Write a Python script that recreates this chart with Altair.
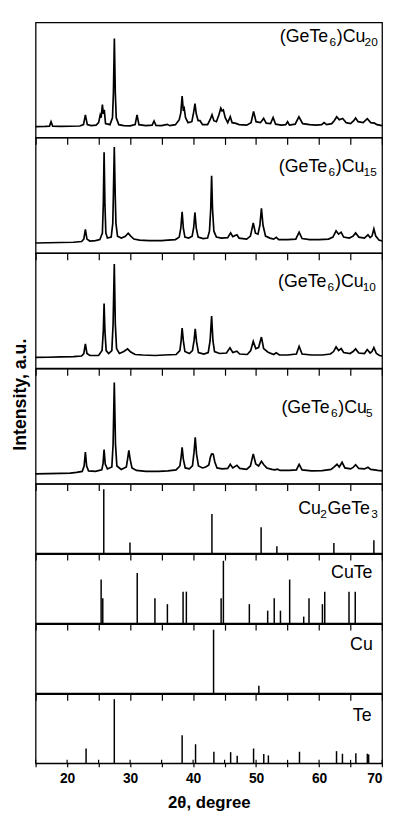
import altair as alt
import pandas as pd

# ---------------- data ----------------
# XRD patterns: 2-theta (degree) and intensity (a.u.)
cu20_2t = [15.0, 16.5, 17.2, 17.45, 17.7, 19.0, 20.5, 22.0, 22.6, 22.9, 23.2, 23.8, 24.6, 25.0, 25.25, 25.4,
           25.6, 25.75, 25.9, 26.1, 26.8, 27.2, 27.35, 27.5, 27.65, 27.8, 28.2, 29.0, 30.0, 30.8, 31.1, 31.4,
           32.5, 33.5, 33.8, 34.1, 35.0, 35.9, 36.3, 37.2, 37.8, 38.05, 38.26, 38.45, 38.6, 38.8, 39.2, 39.8,
           40.1, 40.3, 40.5, 40.8, 41.1, 41.5, 42.3, 42.7, 43.0, 43.3, 43.7, 44.1, 44.4, 44.6, 44.8, 45.1,
           45.5, 45.9, 46.2, 46.8, 47.3, 48.5, 49.2, 49.6, 50.0, 50.7, 51.2, 51.6, 52.3, 52.7, 53.1, 54.0,
           54.7, 55.0, 55.3, 56.2, 56.8, 57.4, 58.5, 59.5, 60.4, 60.8, 61.2, 62.0, 62.4, 62.8, 63.2, 63.75,
           64.3, 65.0, 65.5, 65.8, 66.2, 67.0, 67.65, 68.2, 68.8, 69.2, 70.0]
cu20_int = [11.0, 11.2, 11.5, 16.0, 11.5, 11.3, 11.4, 11.6, 13.0, 23.0, 13.0, 12.0, 12.5, 15.0, 22.7, 20.0,
            33.3, 24.0, 28.0, 14.0, 13.0, 20.0, 45.0, 100.3, 45.0, 20.0, 13.0, 12.0, 11.8, 13.0, 23.0, 13.0,
            12.0, 12.5, 16.7, 12.3, 12.0, 13.3, 12.0, 13.0, 18.0, 25.0, 42.0, 27.0, 29.3, 20.0, 15.0, 16.0,
            26.0, 34.3, 24.0, 17.0, 17.0, 13.0, 13.0, 18.0, 23.0, 17.0, 16.0, 23.0, 29.7, 27.0, 28.0, 20.0,
            15.0, 21.0, 15.0, 14.3, 13.0, 12.5, 15.0, 26.3, 16.0, 15.0, 19.3, 14.5, 14.0, 20.3, 13.5, 12.5,
            13.0, 16.0, 12.5, 13.5, 21.0, 14.0, 13.0, 12.5, 13.0, 15.0, 13.0, 14.0, 17.0, 21.0, 18.0, 19.3,
            15.0, 14.0, 17.0, 19.7, 16.0, 15.0, 19.0, 15.0, 14.5, 13.0, 12.0]

cu15_2t = [15.0, 17.0, 19.0, 21.0, 22.3, 22.65, 22.9, 23.15, 23.6, 24.5, 25.2, 25.6, 25.75, 25.87, 26.0, 26.15,
           26.4, 27.0, 27.25, 27.35, 27.49, 27.63, 27.75, 28.0, 28.6, 29.2, 29.7, 30.1, 30.6, 31.5, 33.0, 35.0,
           36.0, 37.2, 37.8, 38.05, 38.26, 38.45, 38.7, 39.3, 39.85, 40.1, 40.29, 40.5, 40.8, 41.6, 42.3, 42.6,
           42.8, 42.94, 43.08, 43.3, 43.7, 44.5, 45.5, 45.96, 46.3, 46.95, 47.3, 48.5, 49.1, 49.55, 49.9, 50.3,
           50.6, 50.85, 51.1, 51.5, 52.2, 52.8, 53.2, 53.6, 55.0, 56.3, 56.83, 57.3, 58.5, 60.0, 61.5, 62.2,
           62.7, 63.1, 63.5, 63.9, 64.8, 65.4, 65.8, 66.3, 67.2, 67.76, 68.1, 68.4, 68.7, 69.0, 69.5, 70.0]
cu15_int = [10.0, 10.3, 10.5, 10.8, 11.5, 14.0, 23.7, 14.0, 12.0, 12.5, 13.5, 20.0, 50.0, 102.0, 50.0, 20.0,
            15.0, 16.0, 30.0, 60.0, 107.3, 60.0, 30.0, 17.0, 15.0, 16.5, 20.0, 17.0, 14.0, 13.0, 12.5, 12.5,
            13.0, 13.5, 16.0, 25.0, 41.7, 25.0, 16.0, 15.0, 17.0, 26.0, 41.0, 25.0, 16.0, 14.5, 15.0, 22.0,
            45.0, 78.3, 45.0, 22.0, 16.0, 15.0, 15.5, 20.3, 16.5, 18.3, 15.0, 14.0, 17.0, 30.3, 20.0, 19.0,
            28.0, 45.3, 28.0, 17.0, 15.0, 14.0, 15.7, 13.5, 13.5, 14.0, 21.0, 14.5, 13.5, 13.5, 14.0, 16.0,
            22.3, 19.0, 21.0, 16.0, 15.0, 17.0, 20.3, 16.0, 15.0, 18.3, 15.5, 17.0, 24.3, 17.0, 13.0, 12.0]

cu10_2t = [15.0, 17.0, 19.0, 21.0, 22.3, 22.65, 22.9, 23.15, 23.6, 25.0, 25.55, 25.75, 25.87, 26.0, 26.2, 26.6,
           27.1, 27.3, 27.49, 27.65, 27.85, 28.3, 29.0, 29.6, 30.1, 30.8, 32.0, 34.0, 35.4, 37.3, 37.9, 38.1,
           38.26, 38.45, 38.7, 39.4, 39.9, 40.15, 40.34, 40.55, 40.85, 41.7, 42.4, 42.7, 42.94, 43.15, 43.4, 44.2,
           45.3, 45.85, 46.3, 46.95, 47.4, 48.6, 49.15, 49.55, 49.95, 50.4, 50.85, 51.2, 51.9, 52.8, 53.2, 53.7,
           55.0, 56.4, 56.83, 57.3, 58.8, 60.5, 61.8, 62.3, 62.7, 63.1, 63.5, 63.9, 64.9, 65.4, 65.8, 66.3,
           67.2, 67.65, 68.1, 68.4, 68.7, 69.1, 69.6, 70.0]
cu10_int = [11.0, 11.2, 11.5, 11.8, 12.5, 15.0, 24.7, 15.0, 13.0, 13.0, 18.0, 38.0, 65.7, 38.0, 18.0, 15.0,
            18.0, 45.0, 105.7, 45.0, 20.0, 15.0, 17.0, 19.7, 16.5, 14.0, 13.5, 13.0, 13.5, 14.0, 18.0, 28.0,
            40.7, 28.0, 17.0, 15.0, 18.0, 28.0, 40.0, 27.0, 16.0, 14.5, 16.0, 28.0, 53.0, 28.0, 17.0, 15.0,
            15.5, 20.7, 16.0, 17.3, 14.5, 14.0, 18.0, 27.3, 20.0, 21.0, 31.7, 20.0, 16.3, 14.0, 15.7, 13.5,
            13.5, 14.5, 22.3, 14.5, 13.5, 13.5, 14.5, 17.0, 21.7, 18.0, 20.0, 16.0, 15.0, 17.0, 19.7, 15.5,
            15.0, 19.0, 15.5, 17.0, 21.0, 15.0, 13.0, 12.5]

cu5_2t = [15.0, 17.0, 19.0, 20.5, 21.5, 22.4, 22.7, 22.9, 23.1, 23.4, 24.5, 25.5, 25.7, 25.87, 26.05, 26.4,
          27.1, 27.3, 27.49, 27.68, 27.9, 28.6, 29.4, 29.6, 29.8, 30.0, 30.3, 31.0, 32.5, 34.5, 36.0, 37.3,
          37.9, 38.1, 38.26, 38.45, 38.75, 39.4, 39.9, 40.15, 40.34, 40.55, 40.85, 41.5, 42.0, 42.5, 42.75, 42.94,
          43.2, 43.45, 43.8, 44.6, 45.5, 45.9, 46.3, 46.95, 47.4, 48.5, 49.1, 49.55, 49.95, 50.4, 50.85, 51.2,
          51.7, 52.5, 53.0, 53.4, 53.8, 55.3, 56.4, 56.83, 57.3, 58.8, 60.5, 61.9, 62.4, 62.85, 63.2, 63.65,
          64.1, 65.0, 65.4, 65.8, 66.3, 67.2, 67.76, 68.2, 68.8, 69.3, 70.0]
cu5_int = [10.0, 10.2, 10.5, 10.8, 11.5, 12.5, 18.0, 32.0, 18.0, 13.0, 12.5, 14.0, 20.0, 34.7, 20.0, 15.0,
           17.0, 40.0, 102.7, 40.0, 18.0, 14.5, 17.0, 25.0, 33.7, 25.0, 16.0, 13.5, 12.5, 12.5, 13.0, 14.0,
           18.0, 27.0, 37.0, 25.0, 16.0, 15.0, 18.0, 32.0, 47.0, 30.0, 18.0, 16.0, 17.0, 19.0, 27.0, 30.3,
           30.0, 22.0, 16.0, 15.0, 15.5, 19.7, 16.0, 18.7, 15.5, 14.5, 18.0, 30.3, 20.0, 18.0, 22.7, 19.5,
           16.0, 14.5, 14.0, 14.7, 13.5, 13.5, 14.0, 19.7, 14.0, 13.0, 13.3, 14.5, 17.0, 19.7, 17.0, 21.7,
           16.0, 15.0, 16.5, 19.3, 15.5, 15.0, 16.7, 14.5, 14.0, 13.5, 13.0]

# Reference patterns: line positions (2-theta) and relative intensities (a.u.)
cu2gete3_2t = [25.82, 29.98, 42.99, 50.80, 53.30, 62.35, 68.70]
cu2gete3_int = [64.7, 10.7, 39.7, 26.3, 7.0, 10.3, 13.0]
cute_2t = [25.40, 25.66, 31.13, 33.94, 35.92, 38.41, 38.93, 44.45, 44.81, 48.93,
           51.84, 52.88, 53.87, 55.33, 57.56, 58.40, 60.53, 60.90, 64.75, 65.74]
cute_int = [44.3, 25.3, 51.0, 25.3, 19.3, 32.0, 32.0, 25.3, 63.3, 19.3,
            12.7, 25.3, 12.7, 44.3, 6.7, 25.3, 19.3, 32.0, 32.0, 32.0]
cu_2t = [43.25, 50.44]
cu_int = [64.4, 7.7]
te_2t = [23.01, 27.49, 38.26, 40.39, 43.30, 45.96, 47.00, 49.60, 51.22, 51.95,
         56.89, 62.77, 63.71, 65.84, 67.66, 67.87]
te_int = [15.0, 65.0, 28.3, 19.3, 11.7, 11.3, 7.7, 15.0, 9.3, 8.0,
          11.7, 12.3, 9.7, 10.3, 9.7, 9.0]

# labels: (text, is_subscript) pieces
lab_cu20 = [("(GeTe", False), ("6", True), (")Cu", False), ("20", True)]
lab_cu15 = [("(GeTe", False), ("6", True), (")Cu", False), ("15", True)]
lab_cu10 = [("(GeTe", False), ("6", True), (")Cu", False), ("10", True)]
lab_cu5 = [("(GeTe", False), ("6", True), (")Cu", False), ("5", True)]
lab_cu2gete3 = [("Cu", False), ("2", True), ("GeTe", False), ("3", True)]
lab_cute = [("CuTe", False)]
lab_cu = [("Cu", False)]
lab_te = [("Te", False)]

tick_values = [15, 20, 25, 30, 35, 40, 45, 50, 55, 60, 65, 70]
x_title = "2θ, degree"
y_title = "Intensity, a.u."

# ---------------- layout / style ----------------
FONT = "Liberation Sans"
W = 351.2
H_XRD = 116.7
H_REF = 70.1
XDOM = [15, 70]
AW = {"(": .333, ")": .333, "G": .778, "e": .556, "T": .611, "C": .722, "u": .556}
for d in "0123456789":
    AW[d] = .556

one = pd.DataFrame({"a": [0]})


def label_layers(parts, right, base, size=18, sub=12):
    widths = [sum(AW[c] for c in t) * (sub if s else size) for t, s in parts]
    x = right - sum(widths)
    out = []
    for (t, s), w in zip(parts, widths):
        out.append(
            alt.Chart(one).mark_text(text=t, align="left", baseline="alphabetic", font=FONT,
                                     fontSize=sub if s else size, color="black")
            .encode(x=alt.value(x - (0.8 if s else 0)), y=alt.value(base + (4 if s else 0)))
        )
        x += w
    return out


def x_axis(bottom=False):
    if bottom:
        return alt.Axis(values=tick_values, labelExpr="datum.value % 10 == 0 ? datum.label : ''",
                        labelOverlap=False, labelFlush=True, labelFont=FONT, labelFontWeight="bold",
                        labelFontSize=14, labelColor="black", labelPadding=5, tickSize=3.5,
                        tickColor="black", tickWidth=1.2, domain=False, grid=False, title=x_title,
                        titleFont=FONT, titleFontWeight="bold", titleFontSize=17, titleColor="black",
                        titlePadding=9)
    return alt.Axis(values=tick_values, labels=False, title=None, tickSize=7, tickColor="black",
                    tickWidth=1.2, domain=False, grid=False)


def xrd_panel(tt, inten, parts, right, base, extra=None):
    df = pd.DataFrame({"t": tt, "i": inten})
    line = alt.Chart(df).mark_line(color="black", strokeWidth=1.7).encode(
        x=alt.X("t:Q", scale=alt.Scale(domain=XDOM, nice=False, zero=False), axis=x_axis()),
        y=alt.Y("i:Q", scale=alt.Scale(domain=[0, H_XRD]), axis=None),
        order="t:Q",
    )
    layers = [line] + label_layers(parts, right, base)
    if extra is not None:
        layers.append(extra)
    return alt.layer(*layers).properties(width=W, height=H_XRD)


def ref_panel(tt, inten, parts, right, base, bottom=False):
    df = pd.DataFrame({"t": tt, "i": inten})
    rules = alt.Chart(df).mark_rule(color="black", strokeWidth=1.5).encode(
        x=alt.X("t:Q", scale=alt.Scale(domain=XDOM, nice=False, zero=False), axis=x_axis(bottom)),
        y=alt.Y("i:Q", scale=alt.Scale(domain=[0, H_REF]), axis=None),
        y2=alt.datum(0),
    )
    layers = [rules] + label_layers(parts, right, base)
    if bottom:
        tk = alt.Chart(pd.DataFrame({"t": tick_values})).mark_rule(color="black", strokeWidth=1.2).encode(
            x=alt.X("t:Q", axis=x_axis(True)), y=alt.value(H_REF - 3.5), y2=alt.value(H_REF))
        layers.append(tk)
    return alt.layer(*layers).properties(width=W, height=H_REF)


ytitle = alt.Chart(one).mark_text(text=y_title, angle=270, align="center", baseline="middle", font=FONT,
                                  fontSize=18, fontWeight="bold", color="black").encode(
    x=alt.value(-15), y=alt.value(26.5))

panels = [
    xrd_panel(cu20_2t, cu20_int, lab_cu20, W - 3.6, 20),
    xrd_panel(cu15_2t, cu15_int, lab_cu15, W - 4.6, 34.3),
    xrd_panel(cu10_2t, cu10_int, lab_cu10, W - 5.4, 34.7),
    xrd_panel(cu5_2t, cu5_int, lab_cu5, W - 8.7, 45, extra=ytitle),
    ref_panel(cu2gete3_2t, cu2gete3_int, lab_cu2gete3, W - 3.6, 30),
    ref_panel(cute_2t, cute_int, lab_cute, W - 7.7, 24),
    ref_panel(cu_2t, cu_int, lab_cu, W - 9.4, 26.6),
    ref_panel(te_2t, te_int, lab_te, W - 8.7, 27.3, bottom=True),
]

chart = (
    alt.vconcat(*panels, spacing=0, bounds="flush")
    .properties(padding={"left": 3, "top": 8, "right": 0, "bottom": 0}, background="white")
    .configure_view(stroke="black", strokeWidth=1.3)
)

chart.save("out.html", embed_options={"renderer": "svg", "actions": False})
